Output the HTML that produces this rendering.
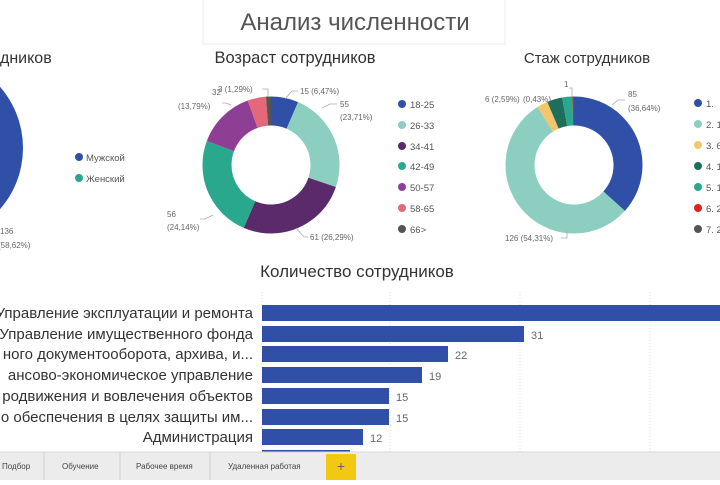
<!DOCTYPE html>
<html><head><meta charset="utf-8"><style>
body{margin:0;width:720px;height:480px;overflow:hidden;background:#fff;font-family:"Liberation Sans","DejaVu Sans",sans-serif;}
</style></head><body>
<svg width="720" height="480" viewBox="0 0 720 480" xmlns="http://www.w3.org/2000/svg" font-family="Liberation Sans, DejaVu Sans, sans-serif">
<rect x="203" y="-1" width="302" height="45" fill="#fff" stroke="#eee"/>
<text x="355" y="30" font-size="24" fill="#555" text-anchor="middle">Анализ численности</text>

<!-- left pie -->
<text x="0" y="63" font-size="16" fill="#333">дников</text>
<circle cx="-70" cy="148" r="93" fill="#3050a8"/>
<text x="0" y="234" font-size="8" fill="#666">136</text>
<text x="-2" y="248" font-size="8" fill="#666">(58,62%)</text>
<circle cx="79" cy="157" r="4" fill="#3050a8"/><text x="86" y="161" font-size="9.5" fill="#555">Мужской</text>
<circle cx="79" cy="178" r="4" fill="#2aa88e"/><text x="86" y="182" font-size="9.5" fill="#555">Женский</text>

<!-- middle donut -->
<text x="295" y="63" font-size="16.5" fill="#333" text-anchor="middle">Возраст сотрудников</text>
<g transform="rotate(-90 271 165)" fill="none" stroke-width="29">
<circle cx="271" cy="165" r="54" stroke="#3050a8" stroke-dasharray="21.95 400" stroke-dashoffset="0"/>
<circle cx="271" cy="165" r="54" stroke="#8ccfc0" stroke-dasharray="80.45 400" stroke-dashoffset="-21.95"/>
<circle cx="271" cy="165" r="54" stroke="#5a2a6b" stroke-dasharray="89.2 400" stroke-dashoffset="-102.4"/>
<circle cx="271" cy="165" r="54" stroke="#2aa88e" stroke-dasharray="81.9 400" stroke-dashoffset="-191.6"/>
<circle cx="271" cy="165" r="54" stroke="#8e3f95" stroke-dasharray="46.79 400" stroke-dashoffset="-273.5"/>
<circle cx="271" cy="165" r="54" stroke="#e5687a" stroke-dasharray="14.62 400" stroke-dashoffset="-320.29"/>
<circle cx="271" cy="165" r="54" stroke="#555" stroke-dasharray="4.38 400" stroke-dashoffset="-334.91"/>
</g>
<g font-size="8" fill="#666" stroke="none">
<text x="300" y="94">15 (6,47%)</text>
<text x="340" y="107">55</text><text x="340" y="120">(23,71%)</text>
<text x="310" y="240">61 (26,29%)</text>
<text x="167" y="217">56</text><text x="167" y="230">(24,14%)</text>
<text x="212" y="95">32</text><text x="178" y="109">(13,79%)</text>
<text x="218" y="92">3 (1,29%)</text>
</g>
<g stroke="#aaa" fill="none" stroke-width="0.8">
<path d="M285 99 L292 91 L298 91"/><path d="M322 108 L330 104 L337 104"/>
<path d="M296 228 L304 237 L308 237"/><path d="M213 215 L205 219 L200 219"/>
<path d="M231 105 L226 103 L222 103"/><path d="M268 97 L268 89 L262 89"/>
</g>
<g font-size="9.5" fill="#555">
<circle cx="402" cy="104" r="4" fill="#3050a8"/><text x="410" y="108">18-25</text>
<circle cx="402" cy="125" r="4" fill="#8ccfc0"/><text x="410" y="129">26-33</text>
<circle cx="402" cy="146" r="4" fill="#5a2a6b"/><text x="410" y="150">34-41</text>
<circle cx="402" cy="166" r="4" fill="#2aa88e"/><text x="410" y="170">42-49</text>
<circle cx="402" cy="187" r="4" fill="#8e3f95"/><text x="410" y="191">50-57</text>
<circle cx="402" cy="208" r="4" fill="#e5687a"/><text x="410" y="212">58-65</text>
<circle cx="402" cy="229" r="4" fill="#555"/><text x="410" y="233">66&gt;</text>
</g>

<!-- right donut -->
<text x="587" y="63" font-size="15" fill="#333" text-anchor="middle">Стаж сотрудников</text>
<g transform="rotate(-90 574 165)" fill="none" stroke-width="29">
<circle cx="574" cy="165" r="54" stroke="#3050a8" stroke-dasharray="124.32 400" stroke-dashoffset="0"/>
<circle cx="574" cy="165" r="54" stroke="#8ccfc0" stroke-dasharray="184.27 400" stroke-dashoffset="-124.32"/>
<circle cx="574" cy="165" r="54" stroke="#f2c66d" stroke-dasharray="8.79 400" stroke-dashoffset="-308.59"/>
<circle cx="574" cy="165" r="54" stroke="#1f6e5c" stroke-dasharray="12.21 400" stroke-dashoffset="-317.38"/>
<circle cx="574" cy="165" r="54" stroke="#2aa88e" stroke-dasharray="8.14 400" stroke-dashoffset="-329.59"/>
<circle cx="574" cy="165" r="54" stroke="#e0201b" stroke-dasharray="1.6 400" stroke-dashoffset="-337.7"/>
</g>
<g font-size="8" fill="#666">
<text x="628" y="97">85</text><text x="628" y="111">(36,64%)</text>
<text x="505" y="241">126 (54,31%)</text>
<text x="485" y="102">6 (2,59%)</text><text x="523" y="102">(0,43%)</text>
<text x="564" y="87">1</text>
</g>
<g stroke="#aaa" fill="none" stroke-width="0.8">
<path d="M612 105 L618 100 L625 100"/><path d="M567 231 L567 238 L561 238"/>
<path d="M569 88 L572 88 L572 97"/>
</g>
<g font-size="9.5" fill="#555">
<circle cx="698" cy="103" r="4" fill="#3050a8"/><text x="706" y="107">1. </text>
<circle cx="698" cy="124" r="4" fill="#8ccfc0"/><text x="706" y="128">2. 1</text>
<circle cx="698" cy="145" r="4" fill="#f2c66d"/><text x="706" y="149">3. 6</text>
<circle cx="698" cy="166" r="4" fill="#1f6e5c"/><text x="706" y="170">4. 1</text>
<circle cx="698" cy="187" r="4" fill="#2aa88e"/><text x="706" y="191">5. 1</text>
<circle cx="698" cy="208" r="4" fill="#e0201b"/><text x="706" y="212">6. 2</text>
<circle cx="698" cy="229" r="4" fill="#555"/><text x="706" y="233">7. 2</text>
</g>

<!-- bar chart -->
<text x="357" y="277" font-size="17" fill="#333" text-anchor="middle">Количество сотрудников</text>
<g stroke="#ddd" stroke-dasharray="1 2">
<line x1="262" y1="292" x2="262" y2="452"/><line x1="390" y1="292" x2="390" y2="452"/><line x1="520" y1="292" x2="520" y2="452"/><line x1="650" y1="292" x2="650" y2="452"/>
</g>
<g fill="#3050a8">
<rect x="262" y="305" width="470" height="16"/>
<rect x="262" y="326" width="262" height="16"/>
<rect x="262" y="346" width="186" height="16"/>
<rect x="262" y="367" width="160" height="16"/>
<rect x="262" y="388" width="127" height="16"/>
<rect x="262" y="409" width="127" height="16"/>
<rect x="262" y="429" width="101" height="16"/>
<rect x="262" y="450" width="88" height="16"/>
</g>
<g font-size="15" fill="#333" text-anchor="end">
<text x="253" y="318">Управление эксплуатации и ремонта</text>
<text x="253" y="339">Управление имущественного фонда</text>
<text x="253" y="359">ного документооборота, архива, и...</text>
<text x="253" y="380">ансово-экономическое управление</text>
<text x="253" y="401">родвижения и вовлечения объектов</text>
<text x="253" y="422">о обеспечения в целях защиты им...</text>
<text x="253" y="442">Администрация</text>
</g>
<g font-size="11" fill="#666">
<text x="531" y="339">31</text><text x="455" y="359">22</text><text x="429" y="380">19</text>
<text x="396" y="401">15</text><text x="396" y="422">15</text><text x="370" y="442">12</text>
</g>

<!-- tabs -->
<rect x="0" y="452" width="720" height="28" fill="#ececec"/>
<line x1="0" y1="452" x2="720" y2="452" stroke="#d8d8d8"/>
<g stroke="#d0d0d0"><line x1="44" y1="452" x2="44" y2="480"/><line x1="120" y1="452" x2="120" y2="480"/><line x1="210" y1="452" x2="210" y2="480"/></g>
<g font-size="8" fill="#444">
<text x="2" y="469">Подбор</text><text x="62" y="469">Обучение</text><text x="136" y="469">Рабочее время</text><text x="228" y="469">Удаленная работая</text>
</g>
<rect x="326" y="454" width="30" height="26" fill="#f2c811"/>
<text x="341" y="471" font-size="14" fill="#666" text-anchor="middle">+</text>
</svg>
</body></html>
